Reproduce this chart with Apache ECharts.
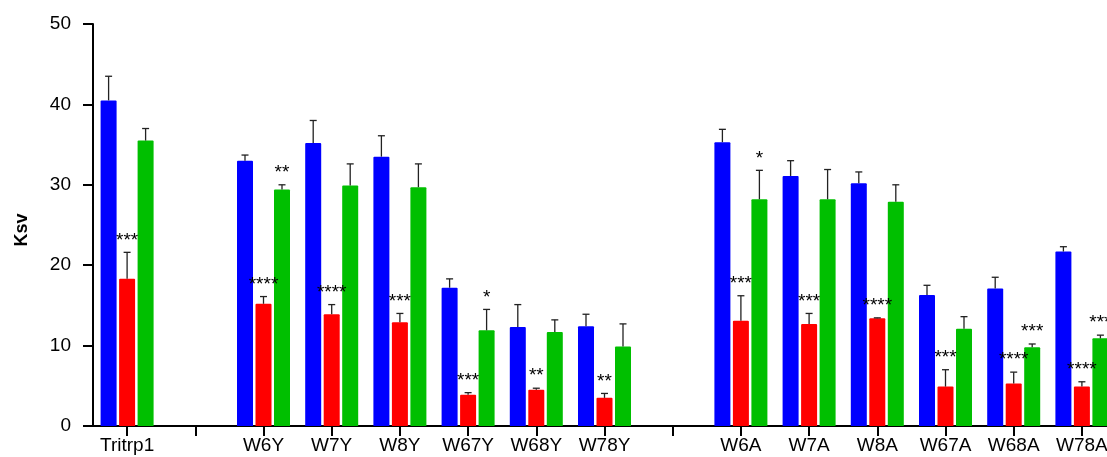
<!DOCTYPE html>
<html>
<head>
<meta charset="utf-8">
<script src="https://cdn.jsdelivr.net/npm/echarts@6/dist/echarts.min.js"></script>
<style>
  html, body { margin: 0; padding: 0; background: #fff; }
  #chart { width: 1107px; height: 457px; }
</style>
</head>
<body>
<div id="chart"></div>
<script>
// Mutant groups; empty strings are spacer slots between the groups
const categories = ['Tritrp1', '', 'W6Y', 'W7Y', 'W8Y', 'W67Y', 'W68Y', 'W78Y', '', 'W6A', 'W7A', 'W8A', 'W67A', 'W68A', 'W78A'];

// Ksv means and standard deviations for the three conditions
const blueMean  = [40.5, null, 33.0, 35.2, 33.5, 17.2, 12.3, 12.4, null, 35.3, 31.1, 30.2, 16.3, 17.1, 21.7];
const blueErr   = [3.0,  null, 0.7,  2.8,  2.6,  1.1,  2.8,  1.5,  null, 1.6,  1.9,  1.4,  1.2,  1.4,  0.6];
const redMean   = [18.3, null, 15.2, 13.9, 12.9, 3.9,  4.5,  3.5,  null, 13.1, 12.7, 13.4, 4.9,  5.3,  4.9];
const redErr    = [3.3,  null, 0.9,  1.2,  1.1,  0.25, 0.2,  0.55, null, 3.1,  1.3,  0.05, 2.1,  1.4,  0.6];
const greenMean = [35.5, null, 29.4, 29.9, 29.7, 11.9, 11.7, 9.9,  null, 28.2, 28.2, 27.9, 12.1, 9.8,  10.9];
const greenErr  = [1.5,  null, 0.6,  2.7,  2.9,  2.6,  1.5,  2.8,  null, 3.6,  3.7,  2.1,  1.5,  0.4,  0.4];

// Significance marks
const blueSig  = ['', '', '', '', '', '', '', '', '', '', '', '', '', '', ''];
const redSig   = ['***', '', '****', '****', '***', '***', '**', '**', '', '***', '***', '****', '***', '****', '****'];
const greenSig = ['', '', '**', '', '', '*', '', '', '', '*', '', '', '', '***', '***'];

// Y axis ticks
const yMin = 0, yMax = 50, yStep = 10;

const BAR_W = 16;
const BAR_GAP = 2.5;
const FONT = 'Liberation Sans, Arial, sans-serif';

const groups = [
  { color: '#0000ff', mean: blueMean,  err: blueErr,  sig: blueSig },
  { color: '#ff0000', mean: redMean,   err: redErr,   sig: redSig },
  { color: '#00bf00', mean: greenMean, err: greenErr, sig: greenSig }
];

const chart = echarts.init(document.getElementById('chart'), null, { renderer: 'canvas' });

const barSeries = groups.map(g => ({
  type: 'bar',
  data: g.mean.map(v => v == null ? '-' : v),
  barWidth: BAR_W,
  barGap: (BAR_GAP / BAR_W * 100) + '%',
  itemStyle: { color: g.color, borderRadius: [1, 1, 0, 0] },
  silent: true,
  z: 2
}));

// Error bars (upper whisker with cap) plus the significance text above them
const errSeries = groups.map((g, gi) => ({
  type: 'custom',
  z: 5,
  silent: true,
  data: g.mean.map((m, i) => m == null ? null : [i, m, g.err[i]]).filter(d => d),
  encode: { x: 0, y: 1 },
  renderItem: function (params, api) {
    const i = api.value(0);
    const m = api.value(1);
    const e = api.value(2);
    const sig = g.sig[i];
    const base = api.coord([i, m]);
    const top = api.coord([i, m + e]);
    const x = base[0] + (gi - 1) * (BAR_W + BAR_GAP);
    const stroke = { stroke: '#222', lineWidth: 1.3 };
    const children = [
      { type: 'line', shape: { x1: x, y1: base[1], x2: x, y2: top[1] }, style: stroke },
      { type: 'line', shape: { x1: x - 3.5, y1: top[1], x2: x + 3.5, y2: top[1] }, style: stroke }
    ];
    if (sig) {
      children.push({
        type: 'text',
        x: x,
        y: top[1] - 12,
        style: {
          text: sig,
          font: '19px ' + FONT,
          fill: '#000',
          align: 'center',
          verticalAlign: 'middle'
        }
      });
    }
    return { type: 'group', children: children };
  }
}));

chart.setOption({
  animation: false,
  backgroundColor: '#fff',
  grid: { left: 93, top: 24, width: 1023, height: 402, containLabel: false, outerBoundsMode: 'none' },
  xAxis: {
    type: 'category',
    data: categories,
    boundaryGap: true,
    axisLine: { lineStyle: { color: '#000', width: 2 } },
    axisTick: { show: true, alignWithLabel: true, interval: 0, length: 10, lineStyle: { color: '#000', width: 2 } },
    axisLabel: { interval: 0, color: '#000', fontSize: 19, fontFamily: FONT, margin: 10 },
    splitLine: { show: false }
  },
  yAxis: {
    type: 'value',
    min: yMin,
    max: yMax,
    interval: yStep,
    axisLine: { show: true, lineStyle: { color: '#000', width: 2 } },
    axisTick: { show: true, length: 10, lineStyle: { color: '#000', width: 2 } },
    axisLabel: { color: '#000', fontSize: 19, fontFamily: FONT, margin: 22 },
    splitLine: { show: false }
  },
  graphic: [{
    type: 'text',
    x: 22,
    y: 230,
    rotation: Math.PI / 2,
    style: {
      text: 'Ksv',
      font: 'bold 18px ' + FONT,
      fill: '#000',
      align: 'center',
      verticalAlign: 'middle'
    }
  }],
  series: barSeries.concat(errSeries)
});
</script>
</body>
</html>
